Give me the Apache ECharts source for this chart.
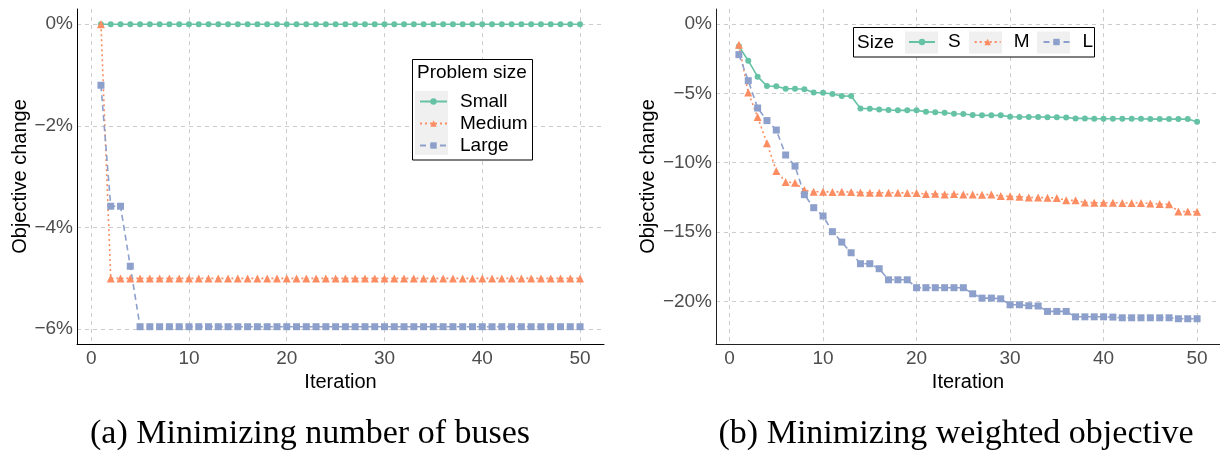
<!DOCTYPE html>
<html>
<head>
<meta charset="utf-8">
<script src="https://cdn.jsdelivr.net/npm/echarts@6/dist/echarts.min.js"></script>
<style>
html,body{margin:0;padding:0;background:#fff;}
#chart{width:1220px;height:451px;}
</style>
</head>
<body>
<div id="chart"></div>
<script>
// ---------- data ----------
const iterations = [1,2,3,4,5,6,7,8,9,10,11,12,13,14,15,16,17,18,19,20,21,22,23,24,25,26,27,28,29,30,31,32,33,34,35,36,37,38,39,40,41,42,43,44,45,46,47,48,49,50];

// (a) Minimizing number of buses (objective change, %)
const smallA = [0,0,0,0,0,0,0,0,0,0,0,0,0,0,0,0,0,0,0,0,0,0,0,0,0,0,0,0,0,0,0,0,0,0,0,0,0,0,0,0,0,0,0,0,0,0,0,0,0,0];
const mediumA = [0,-5,-5,-5,-5,-5,-5,-5,-5,-5,-5,-5,-5,-5,-5,-5,-5,-5,-5,-5,-5,-5,-5,-5,-5,-5,-5,-5,-5,-5,-5,-5,-5,-5,-5,-5,-5,-5,-5,-5,-5,-5,-5,-5,-5,-5,-5,-5,-5,-5];
const largeA = [-1.2,-3.58,-3.58,-4.76,-5.95,-5.95,-5.95,-5.95,-5.95,-5.95,-5.95,-5.95,-5.95,-5.95,-5.95,-5.95,-5.95,-5.95,-5.95,-5.95,-5.95,-5.95,-5.95,-5.95,-5.95,-5.95,-5.95,-5.95,-5.95,-5.95,-5.95,-5.95,-5.95,-5.95,-5.95,-5.95,-5.95,-5.95,-5.95,-5.95,-5.95,-5.95,-5.95,-5.95,-5.95,-5.95,-5.95,-5.95,-5.95,-5.95];

// (b) Minimizing weighted objective (objective change, %)
const smallB = [-1.6,-2.65,-3.8,-4.47,-4.5,-4.67,-4.67,-4.71,-4.95,-4.96,-5.05,-5.19,-5.2,-6.09,-6.11,-6.16,-6.2,-6.23,-6.23,-6.23,-6.33,-6.37,-6.4,-6.47,-6.49,-6.57,-6.59,-6.59,-6.59,-6.69,-6.71,-6.71,-6.71,-6.72,-6.73,-6.75,-6.81,-6.81,-6.83,-6.83,-6.83,-6.83,-6.83,-6.83,-6.86,-6.86,-6.86,-6.86,-6.86,-7.05];
const mediumB = [-1.5,-4.95,-6.7,-8.6,-10.6,-11.4,-11.45,-11.98,-12.1,-12.1,-12.12,-12.1,-12.12,-12.15,-12.17,-12.17,-12.17,-12.17,-12.19,-12.19,-12.27,-12.25,-12.29,-12.27,-12.29,-12.29,-12.32,-12.29,-12.41,-12.43,-12.46,-12.51,-12.52,-12.53,-12.55,-12.72,-12.72,-12.87,-12.89,-12.89,-12.89,-12.91,-12.91,-12.91,-12.94,-12.99,-13.0,-13.52,-13.52,-13.55];
const largeB = [-2.21,-4.09,-6.06,-6.97,-7.65,-9.45,-10.25,-12.31,-13.25,-13.85,-14.98,-15.73,-16.5,-17.29,-17.29,-17.65,-18.45,-18.45,-18.45,-19.02,-19.02,-19.02,-19.02,-19.02,-19.02,-19.46,-19.77,-19.77,-19.82,-20.25,-20.25,-20.32,-20.34,-20.73,-20.73,-20.73,-21.12,-21.12,-21.12,-21.12,-21.14,-21.19,-21.19,-21.19,-21.19,-21.19,-21.19,-21.26,-21.26,-21.26];

// tick labels
const xTicks = [0,10,20,30,40,50];
const yTicksA = [0,-2,-4,-6];
const yTicksB = [0,-5,-10,-15,-20];

const seriesNamesA = ['Small','Medium','Large'];
const seriesNamesB = ['S','M','L'];
const legendTitleA = 'Problem size';
const legendTitleB = 'Size';
const xTitle = 'Iteration';
const yTitle = 'Objective change';
const captionA = '(a) Minimizing number of buses';
const captionB = '(b) Minimizing weighted objective';

// ---------- styling ----------
const FONT = '"Liberation Sans", Arial, sans-serif';
const COLORS = ['#66C2A5', '#FC8D62', '#8DA0CB'];
const GRID_LINE = {show:true, lineStyle:{color:'#cccccc', type:[4,4], width:1}};

function pct(v){
  const a = Math.round(Math.abs(v)*100)/100;
  return (v < 0 ? '\u2212' : '') + a + '%';
}
function pairs(vals){ return iterations.map((it,i)=>[it, vals[i]]); }

function xAxisCfg(gi){
  return {
    gridIndex: gi, type:'value', min:-1.45, max:52.45,
    axisLine:{show:true, onZero:false, lineStyle:{color: gi===0 ? '#000' : '#222', width:1}},
    axisTick:{show:false, customValues:xTicks},
    axisLabel:{customValues:xTicks, color:'#4d4d4d', fontSize:19, fontFamily:FONT, margin:5},
    splitLine:GRID_LINE,
    name:xTitle, nameLocation:'middle', nameGap:22,
    nameTextStyle:{color:'#000', fontSize:20, fontFamily:FONT}
  };
}
function yAxisCfg(gi, min, max, ticks, gap){
  return {
    gridIndex: gi, type:'value', min:min, max:max,
    axisLine:{show:true, onZero:false, lineStyle:{color: gi===0 ? '#000' : '#222', width:1}},
    axisTick:{show:false, customValues:ticks},
    axisLabel:{customValues:ticks, color:'#4d4d4d', fontSize:19, fontFamily:FONT, margin:4, formatter:pct},
    splitLine:GRID_LINE,
    name:yTitle, nameLocation:'middle', nameGap:gap,
    nameTextStyle:{color:'#000', fontSize:20, fontFamily:FONT}
  };
}
function lineSeries(name, vals, gi, k){
  const symbols = ['circle','triangle','rect'];
  const sizes = [6, 8, 7];
  const types = ['solid', [2,3], [6,4]];
  return {
    name:name, type:'line', xAxisIndex:gi, yAxisIndex:gi,
    data:pairs(vals),
    symbol:symbols[k], symbolSize:sizes[k], showSymbol:true,
    color:COLORS[k],
    lineStyle:{color:COLORS[k], width:1.6, type:types[k]},
    itemStyle:{color:COLORS[k]},
    animation:false, z:2
  };
}

const chart = echarts.init(document.getElementById('chart'), null, {renderer:'canvas'});
const option = {
  backgroundColor:'#ffffff',
  animation:false,
  textStyle:{fontFamily:FONT},
  grid:[
    {left:77, top:9, width:527, height:335, containLabel:false},
    {left:716, top:9, width:516, height:335, containLabel:false}
  ],
  xAxis:[xAxisCfg(0), xAxisCfg(1)],
  yAxis:[yAxisCfg(0, -6.29, 0.30, yTicksA, 40), yAxisCfg(1, -23.08, 1.08, yTicksB, 52)],
  legend:[
    {
      data:seriesNamesA, orient:'vertical', left:419, top:92,
      itemWidth:27, itemHeight:8, itemGap:3, padding:0,
      textStyle:{fontSize:19, color:'#000', fontFamily:FONT, padding:[0,0,0,8]},
      backgroundColor:'transparent', z:10, selectedMode:false
    },
    {
      data:seriesNamesB, orient:'horizontal', left:908, top:32.5,
      itemWidth:26, itemHeight:8, itemGap:13, padding:0,
      textStyle:{fontSize:19, color:'#000', fontFamily:FONT, padding:[0,0,0,8]},
      backgroundColor:'transparent', z:10, selectedMode:false
    }
  ],
  graphic:[
    {type:'rect', z:5, shape:{x:412.5, y:59.5, width:120, height:100.5}, style:{fill:'#fff', stroke:'#000', lineWidth:1}},
    {type:'rect', z:6, shape:{x:415, y:91, width:33, height:64}, style:{fill:'#f0f0f0'}},
    {type:'text', z:7, x:417, y:73, style:{text:legendTitleA, font:'19px ' + FONT, fill:'#000', verticalAlign:'middle'}},
    {type:'rect', z:5, shape:{x:853.5, y:27.5, width:241, height:29.5}, style:{fill:'#fff', stroke:'#000', lineWidth:1}},
    {type:'rect', z:6, shape:{x:905, y:31.5, width:33, height:22}, style:{fill:'#f0f0f0'}},
    {type:'rect', z:6, shape:{x:969, y:31.5, width:33, height:22}, style:{fill:'#f0f0f0'}},
    {type:'rect', z:6, shape:{x:1037, y:31.5, width:33, height:22}, style:{fill:'#f0f0f0'}},
    {type:'text', z:7, x:857, y:42.5, style:{text:legendTitleB, font:'19px ' + FONT, fill:'#000', verticalAlign:'middle'}},
    {type:'text', z:7, x:310, y:434, style:{text:captionA, font:'34px "Liberation Serif", serif', fill:'#000', align:'center', verticalAlign:'middle'}},
    {type:'text', z:7, x:956, y:434, style:{text:captionB, font:'34px "Liberation Serif", serif', fill:'#000', align:'center', verticalAlign:'middle'}}
  ],
  series:[
    lineSeries(seriesNamesA[0], smallA, 0, 0),
    lineSeries(seriesNamesA[1], mediumA, 0, 1),
    lineSeries(seriesNamesA[2], largeA, 0, 2),
    lineSeries(seriesNamesB[0], smallB, 1, 0),
    lineSeries(seriesNamesB[1], mediumB, 1, 1),
    lineSeries(seriesNamesB[2], largeB, 1, 2)
  ]
};
chart.setOption(option);
</script>
</body>
</html>
